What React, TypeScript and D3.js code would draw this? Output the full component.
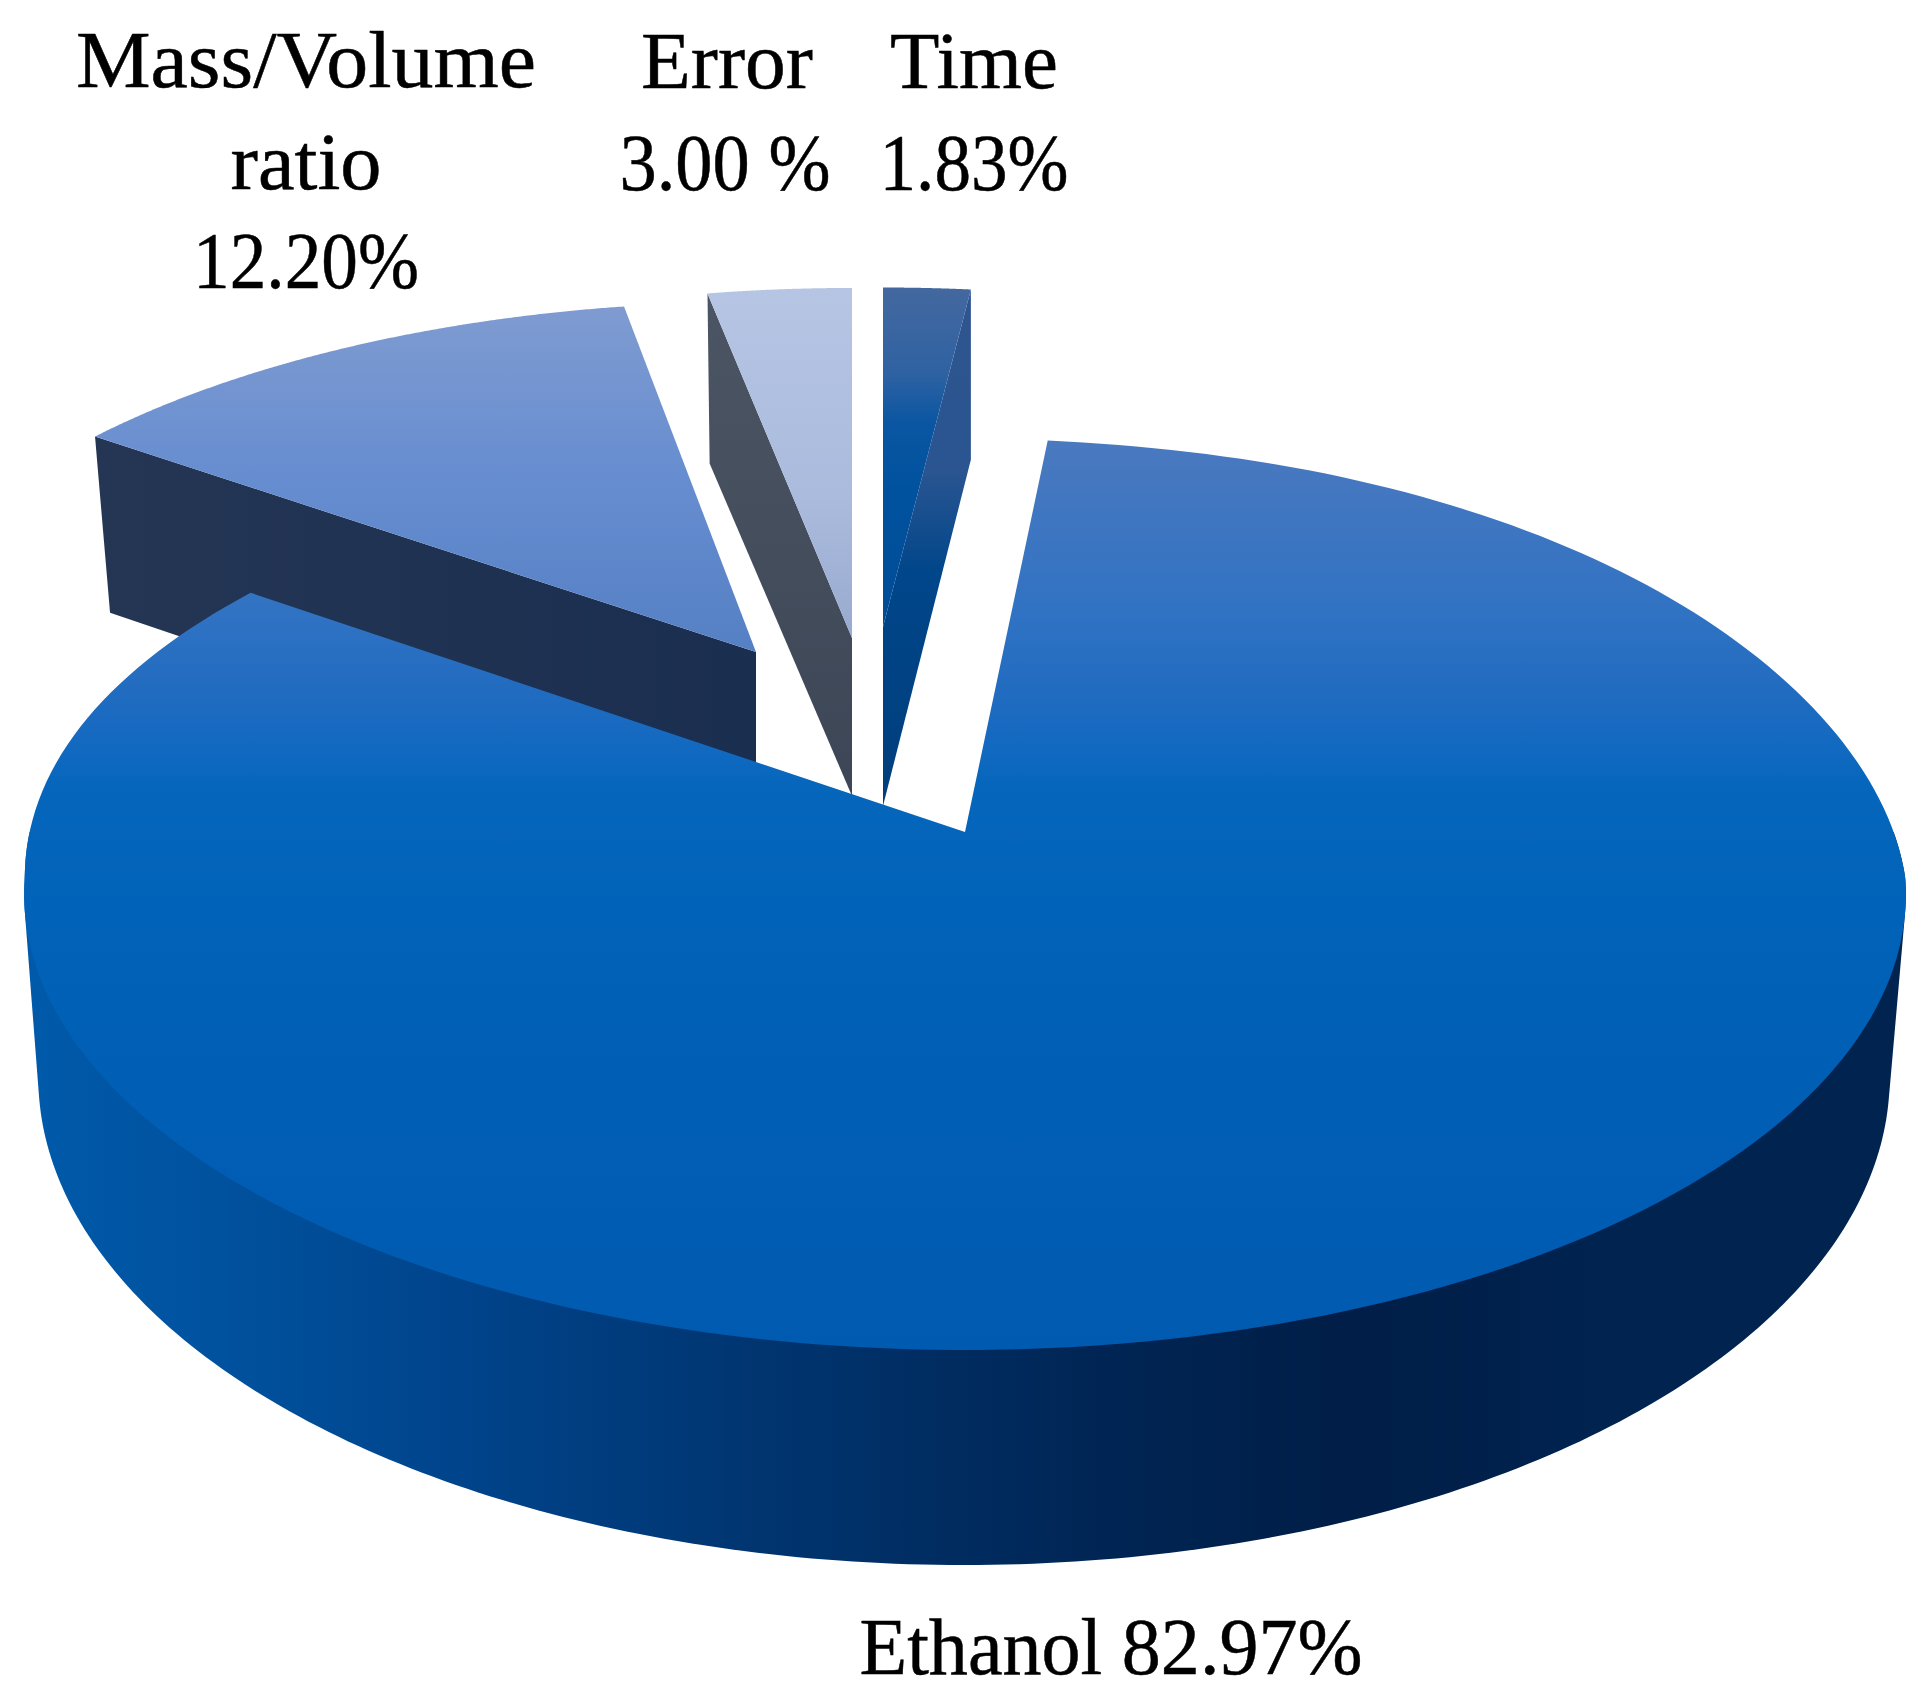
import React from "react";
import * as d3 from "d3";

// ---- data (clockwise from 12 o'clock, as drawn) ----
const categories = ["Time", "Ethanol", "Mass/Volume ratio", "Error"];
const values = [1.83, 82.97, 12.2, 3.0];

// ---- layout constants ----
const K = 0.137; // perspective strength
type Frame = { ax: number; ay: number; R: number; Re: number; bow?: number };
// small per-slice angle corrections [start, end] in degrees, from the picture's distortion
const rot: Record<string, [number, number]> = {
  Time: [0, 0],
  Ethanol: [-0.8, 0],
  "Mass/Volume ratio": [0.5, 1],
  Error: [0, 0],
};
const topFrames: Record<string, Frame> = {
  Time: { ax: 883, ay: 627, R: 870, Re: 386 },
  Ethanol: { ax: 965, ay: 832, R: 932, Re: 447, bow: 11 },
  "Mass/Volume ratio": { ax: 756, ay: 652, R: 880, Re: 398 },
  Error: { ax: 852, ay: 638, R: 875, Re: 398 },
};
const bottomFrames: Record<string, Frame> = {
  Time: { ax: 883, ay: 806, R: 870, Re: 396 },
  Ethanol: { ax: 964, ay: 1010, R: 917, Re: 479 },
  "Mass/Volume ratio": { ax: 756, ay: 832, R: 860, Re: 405 },
  Error: { ax: 852, ay: 796, R: 862, Re: 384 },
};

const labels = [
  { text: "Mass/Volume", x: 306, y: 87, w: 460 },
  { text: "ratio", x: 306, y: 189, w: 151 },
  { text: "12.20%", x: 306, y: 288, w: 226 },
  { text: "Error", x: 727, y: 88, w: 172 },
  { text: "3.00 %", x: 725, y: 190, w: 211 },
  { text: "Time", x: 974, y: 88, w: 168 },
  { text: "1.83%", x: 974, y: 190, w: 189 },
  { text: "Ethanol 82.97%", x: 1111, y: 1674, w: 503 },
];

const project = (f: Frame, a: number): [number, number] => {
  const c = Math.cos(a);
  const s = 1 / (1 + K * c);
  const bump = f.bow ? -f.bow * Math.sin(Math.PI * Math.min(1, Math.max(0, c + 0.1))) : 0;
  return [f.ax + f.R * Math.sin(a) * s + bump, f.ay - f.Re * c * s];
};
const lineGen = d3.line<[number, number]>().x((d) => d[0]).y((d) => d[1]);
const arcPoints = (f: Frame, a0: number, a1: number) =>
  d3.range(0, 241).map((i) => project(f, a0 + ((a1 - a0) * i) / 240));

const pieData = d3.pie<number>().sort(null)(values);
const slices = categories.map((name, i) => ({
  name,
  start: pieData[i].startAngle + (rot[name][0] * Math.PI) / 180,
  end: pieData[i].endAngle + (rot[name][1] * Math.PI) / 180,
}));
const byName = (n: string) => slices.find((s) => s.name === n)!;

const facePath = (n: string) => {
  const s = byName(n);
  const f = topFrames[n];
  return lineGen([[f.ax, f.ay], ...arcPoints(f, s.start, s.end)])! + "Z";
};
const cutPath = (n: string, edge: "start" | "end") => {
  const s = byName(n);
  const t = topFrames[n];
  const b = bottomFrames[n];
  const a = s[edge];
  return lineGen([[t.ax, t.ay], project(t, a), project(b, a), [b.ax, b.ay]])! + "Z";
};
// visible outer wall: the silhouette of the front halves of both rims
const wallPath = (n: string) => {
  const t = topFrames[n];
  const b = bottomFrames[n];
  const a0 = Math.PI / 2;
  const a1 = Math.PI * 1.5;
  const hull = d3.polygonHull([...arcPoints(t, a0, a1), ...arcPoints(b, a0, a1)]) as [number, number][];
  return lineGen(hull)! + "Z";
};

const Grad = ({ id, stops, h }: { id: string; stops: [number, string][]; h?: boolean }) => (
  <linearGradient id={id} x1="0" y1="0" x2={h ? 1 : 0} y2={h ? 0 : 1}>
    {stops.map(([o, c]) => (
      <stop key={o} offset={o} stopColor={c} />
    ))}
  </linearGradient>
);

export default function App() {
  return (
    <svg
      width={1925}
      height={1698}
      viewBox="0 0 1925 1698"
      style={{ position: "absolute", left: 0, top: 0, display: "block", background: "#fff" }}
    >
      <defs>
        <Grad id="gEth" stops={[[0, "#4a79bf"], [0.088, "#3f76c1"], [0.197, "#2f72c3"], [0.27, "#226cc0"], [0.342, "#1169c0"], [0.38, "#0566bc"], [0.525, "#0062b8"], [1, "#005ab0"]]} />
        <Grad id="gWall" h stops={[[0, "#005aaa"], [0.1, "#00529f"], [0.25, "#004288"], [0.38, "#003672"], [0.575, "#002554"], [0.705, "#001e47"], [0.84, "#002350"], [1, "#00244f"]]} />
        <Grad id="gMass" stops={[[0, "#7f9bd1"], [0.5, "#668dd0"], [1, "#5580c4"]]} />
        <Grad id="gMassCut" h stops={[[0, "#253654"], [1, "#1a2e50"]]} />
        <Grad id="gErr" stops={[[0, "#b7c5e4"], [0.6, "#aabbdd"], [1, "#98aacf"]]} />
        <Grad id="gErrCut" stops={[[0, "#4c5563"], [1, "#3c4656"]]} />
        <Grad id="gTime" stops={[[0, "#44689f"], [0.25, "#2f62a2"], [0.4, "#0a56a2"], [0.6, "#00529f"], [1, "#004c96"]]} />
        <Grad id="gTimeCut" stops={[[0, "#2f5590"], [0.35, "#2a5590"], [0.55, "#00468a"], [1, "#003e7c"]]} />
      </defs>

      <path d={cutPath("Mass/Volume ratio", "start")} fill="url(#gMassCut)" />
      <path d={facePath("Mass/Volume ratio")} fill="url(#gMass)" />

      <path d={cutPath("Error", "start")} fill="url(#gErrCut)" />
      <path d={facePath("Error")} fill="url(#gErr)" />

      <path d={cutPath("Time", "end")} fill="url(#gTimeCut)" />
      <path d={facePath("Time")} fill="url(#gTime)" />

      <path d={wallPath("Ethanol")} fill="url(#gWall)" />
      <path d={facePath("Ethanol")} fill="url(#gEth)" />

      <g fontFamily="'Liberation Serif', serif" fontSize={80} fill="#000" stroke="#000" strokeWidth={0.5} textAnchor="middle">
        {labels.map((l) => (
          <text key={l.text} x={l.x} y={l.y} textLength={l.w} lengthAdjust="spacingAndGlyphs">
            {l.text}
          </text>
        ))}
      </g>
    </svg>
  );
}
